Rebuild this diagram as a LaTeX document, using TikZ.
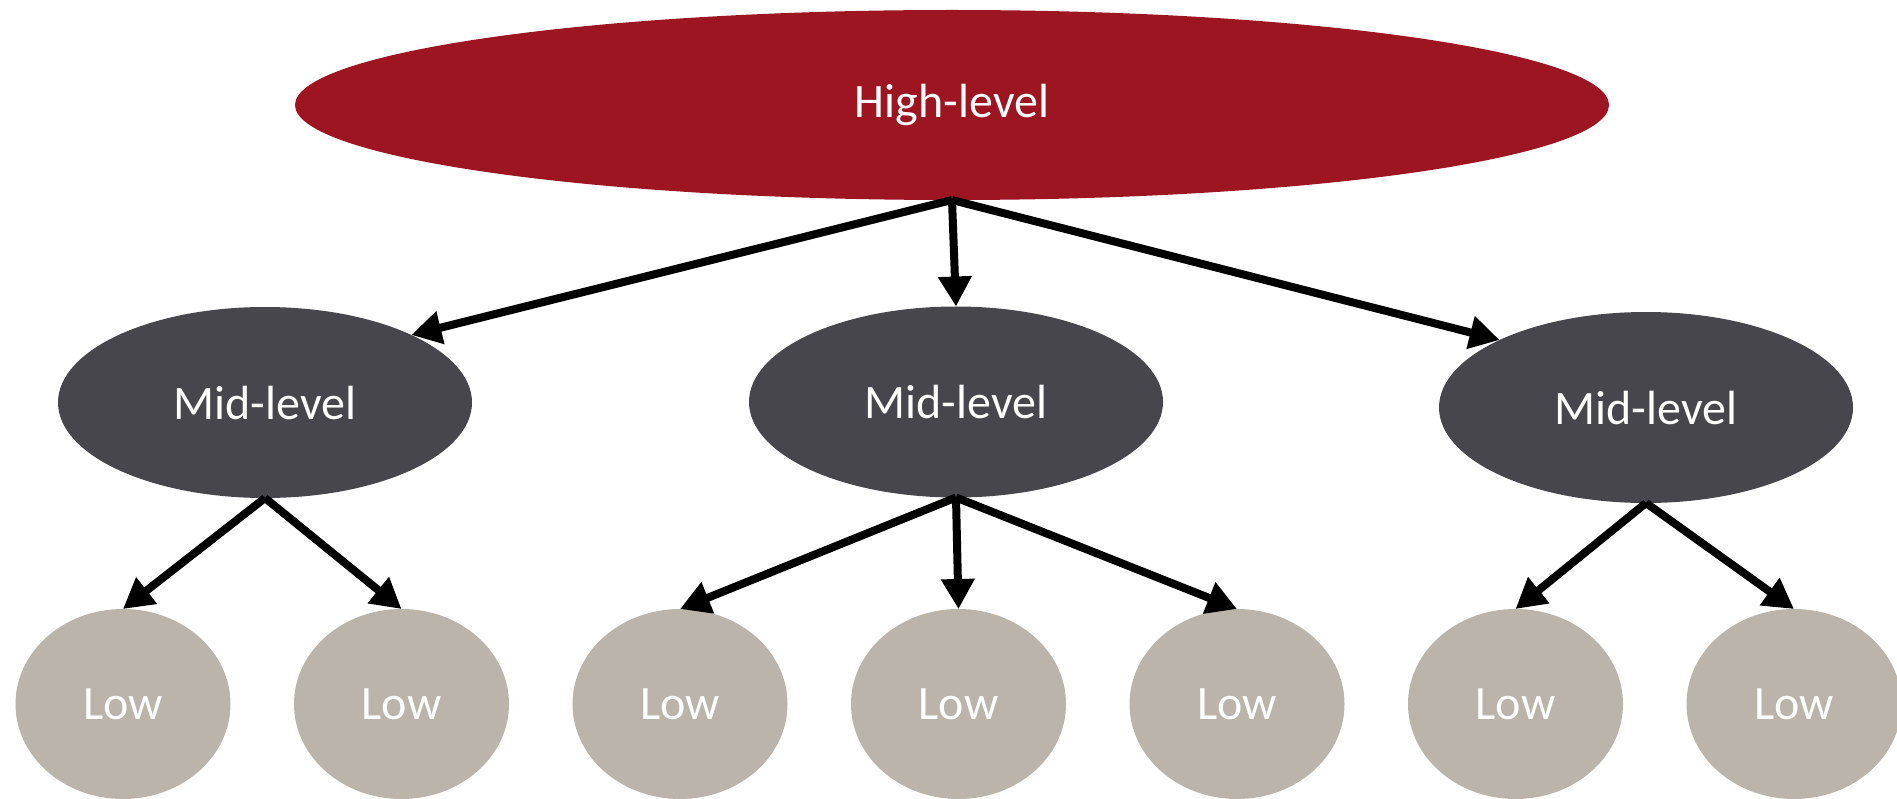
\documentclass[tikz,border=0pt]{standalone}
\usepackage{fontspec}
\setmainfont{Carlito}
\usetikzlibrary{shapes.geometric,arrows.meta}
\definecolor{highred}{RGB}{157,21,33}
\definecolor{midgray}{RGB}{71,70,76}
\definecolor{lowtaupe}{RGB}{186,180,170}
\tikzset{
  base/.style={ellipse,inner sep=0pt,outer sep=0pt,text=white,font=\fontsize{48}{52}\selectfont},
  highnode/.style={base,fill=highred,minimum width=1314pt,minimum height=190pt},
  midnode/.style={base,fill=midgray,minimum width=414pt,minimum height=191pt},
  lownode/.style={base,fill=lowtaupe,minimum width=215pt,minimum height=190pt},
  conn/.style={line width=8pt,draw=black,-{Triangle[length=30pt,width=32pt]}}
}
\begin{document}
\begin{tikzpicture}[x=1pt,y=-1pt]
\useasboundingbox (0,0) rectangle (1897,799);
\node[highnode] (h) at (952,105) {High-level};
\node[midnode] (m1) at (265,402.5) {Mid-level};
\node[midnode] (m2) at (956,402) {Mid-level};
\node[midnode] (m3) at (1646,407.5) {Mid-level};
\node[lownode] (l1) at (123,704) {Low};
\node[lownode] (l2) at (401.5,704) {Low};
\node[lownode] (l3) at (680,704) {Low};
\node[lownode] (l4) at (958.5,704) {Low};
\node[lownode] (l5) at (1237,704) {Low};
\node[lownode] (l6) at (1515.5,704) {Low};
\node[lownode] (l7) at (1794,704) {Low};
\draw[conn] (h.south) -- (m1.north east);
\draw[conn] (h.south) -- (m2.north);
\draw[conn] (h.south) -- (m3.north west);
\draw[conn] (m1.south) -- (l1.north);
\draw[conn] (m1.south) -- (l2.north);
\draw[conn] (m2.south) -- (l3.north);
\draw[conn] (m2.south) -- (l4.north);
\draw[conn] (m2.south) -- (l5.north);
\draw[conn] (m3.south) -- (l6.north);
\draw[conn] (m3.south) -- (l7.north);
\end{tikzpicture}
\end{document}
